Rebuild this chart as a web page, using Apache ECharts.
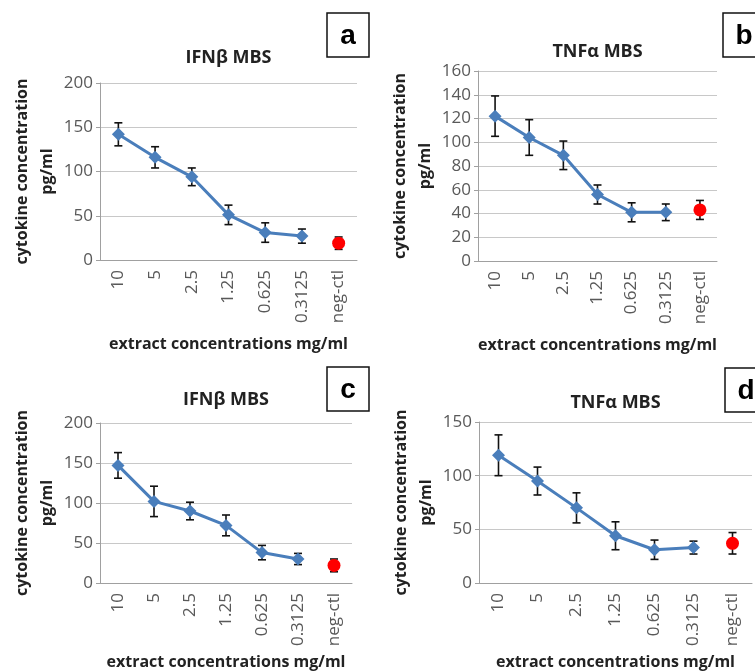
<!DOCTYPE html>
<html>
<head>
<meta charset="utf-8">
<script src="https://cdn.jsdelivr.net/npm/echarts@6/dist/echarts.min.js"></script>
<style>
html, body { margin: 0; padding: 0; background: #fff; }
#main { width: 755px; height: 671px; }
</style>
</head>
<body>
<div id="main"></div>
<script>
// categories on every x axis
var categories = ['10', '5', '2.5', '1.25', '0.625', '0.3125', 'neg-ctl'];

// panel a: IFNb MBS
var ifnA = [142, 116, 94, 51, 31, 27];
var ifnAErr = [13, 12, 10, 11, 11, 8];
// panel b: TNFa MBS
var tnfB = [122, 104, 89, 56, 41, 41];
var tnfBErr = [17, 15, 12, 8, 8, 7];
// panel c: IFNb MBS
var ifnC = [147, 102, 90, 72, 38, 30];
var ifnCErr = [16, 19, 11, 13, 9, 7];
// panel d: TNFa MBS
var tnfD = [119, 95, 70, 44, 31, 33];
var tnfDErr = [19, 13, 14, 13, 9, 6];

// negative control, panels a..d
var negCtl = [19, 43, 22, 37];
var negCtlErr = [7, 8, 8, 10];

// y axis ranges, panels a..d
var yMax = [200, 160, 200, 150];
var yStep = [50, 20, 50, 50];

var panelTitles = ['IFNβ MBS', 'TNFα MBS', 'IFNβ MBS', 'TNFα MBS'];
var panelLetters = ['a', 'b', 'c', 'd'];
var means = [ifnA, tnfB, ifnC, tnfD];
var errs = [ifnAErr, tnfBErr, ifnCErr, tnfDErr];

var FONT = 'Open Sans';
var grids = [
	{ left: 100, top: 83, width: 257, height: 177, outerBoundsMode: 'none' },
	{ left: 478, top: 71, width: 239, height: 190, outerBoundsMode: 'none' },
	{ left: 100, top: 423, width: 252, height: 160, outerBoundsMode: 'none' },
	{ left: 479, top: 422, width: 273, height: 161, outerBoundsMode: 'none' }
];
var titleOffset = [25, 19, 23, 19];
var xNameGap = [76, 76, 71, 71];

var myChart = echarts.init(document.getElementById('main'));

function renderErr(params, api) {
	var x = api.value(0);
	var top = api.coord([x, api.value(2)]);
	var bot = api.coord([x, api.value(1)]);
	var w = 4;
	var st = { stroke: '#111', lineWidth: 1.6 };
	return {
		type: 'group',
		children: [
			{ type: 'line', shape: { x1: top[0], y1: top[1], x2: bot[0], y2: bot[1] }, style: st },
			{ type: 'line', shape: { x1: top[0] - w, y1: top[1], x2: top[0] + w, y2: top[1] }, style: st },
			{ type: 'line', shape: { x1: bot[0] - w, y1: bot[1], x2: bot[0] + w, y2: bot[1] }, style: st }
		]
	};
}

var xAxes = [], yAxes = [], series = [], graphics = [];
for (var p = 0; p < 4; p++) {
	var g = grids[p];
	xAxes.push({
		gridIndex: p,
		type: 'category',
		data: categories,
		boundaryGap: true,
		axisLine: { lineStyle: { color: '#a0a0a0', width: 1 } },
		axisTick: { show: false },
		axisLabel: { rotate: 90, interval: 0, margin: 10, fontSize: 17, color: '#595959', fontFamily: FONT },
		name: 'extract concentrations mg/ml',
		nameLocation: 'middle',
		nameGap: xNameGap[p],
		nameTextStyle: { fontSize: 16, fontWeight: 'bold', color: '#222', fontFamily: FONT }
	});
	yAxes.push({
		gridIndex: p,
		type: 'value',
		min: 0,
		max: yMax[p],
		interval: yStep[p],
		axisLine: { show: true, lineStyle: { color: '#a0a0a0', width: 1 } },
		axisTick: { show: true, length: 4, lineStyle: { color: '#a0a0a0' } },
		axisLabel: { margin: 7, fontSize: 17, color: '#595959', fontFamily: FONT },
		splitLine: { lineStyle: { color: '#c8c8c8', width: 1.2 } },
		name: 'cytokine concentration\npg/ml',
		nameLocation: 'middle',
		nameGap: 40,
		nameTextStyle: { fontSize: 16, fontWeight: 'bold', color: '#222', fontFamily: FONT, lineHeight: 25 }
	});

	var lineData = means[p].concat(['-']);
	var errData = [];
	for (var i = 0; i < means[p].length; i++) {
		errData.push([i, means[p][i] - errs[p][i], means[p][i] + errs[p][i]]);
	}
	errData.push([6, negCtl[p] - negCtlErr[p], negCtl[p] + negCtlErr[p]]);

	series.push({
		type: 'custom',
		xAxisIndex: p,
		yAxisIndex: p,
		renderItem: renderErr,
		data: errData,
		z: 1,
		silent: true
	});
	series.push({
		type: 'line',
		xAxisIndex: p,
		yAxisIndex: p,
		data: lineData,
		symbol: 'diamond',
		symbolSize: 13,
		lineStyle: { color: '#4a7ebb', width: 3 },
		itemStyle: { color: '#4a7ebb' },
		z: 3
	});
	series.push({
		type: 'scatter',
		xAxisIndex: p,
		yAxisIndex: p,
		data: [['neg-ctl', negCtl[p]]],
		symbol: 'circle',
		symbolSize: 13,
		itemStyle: { color: '#ff0000', opacity: 1 },
		z: 3
	});

	// panel title
	graphics.push({
		type: 'text',
		x: g.left + g.width / 2,
		y: g.top - titleOffset[p],
		style: { text: panelTitles[p], fontSize: 18, fontWeight: 'bold', fill: '#222', fontFamily: FONT, align: 'center', verticalAlign: 'middle' }
	});
}

// letter boxes
var boxPos = [[327, 13], [723, 13], [327, 367], [725, 368]];
for (var k = 0; k < 4; k++) {
	graphics.push({
		type: 'group',
		x: boxPos[k][0],
		y: boxPos[k][1],
		children: [
			{ type: 'rect', shape: { x: 0, y: 0, width: 42, height: 44 }, style: { fill: '#fff', stroke: '#111', lineWidth: 1.5 } },
			{ type: 'text', x: 21, y: 23, style: { text: panelLetters[k], fontSize: 28, fontWeight: 'bold', fill: '#000', fontFamily: 'Liberation Sans', align: 'center', verticalAlign: 'middle' } }
		]
	});
}

var option = {
	animation: false,
	backgroundColor: '#fff',
	grid: grids,
	xAxis: xAxes,
	yAxis: yAxes,
	series: series,
	graphic: graphics
};
myChart.setOption(option);
window.onresize = myChart.resize;
</script>
</body>
</html>
